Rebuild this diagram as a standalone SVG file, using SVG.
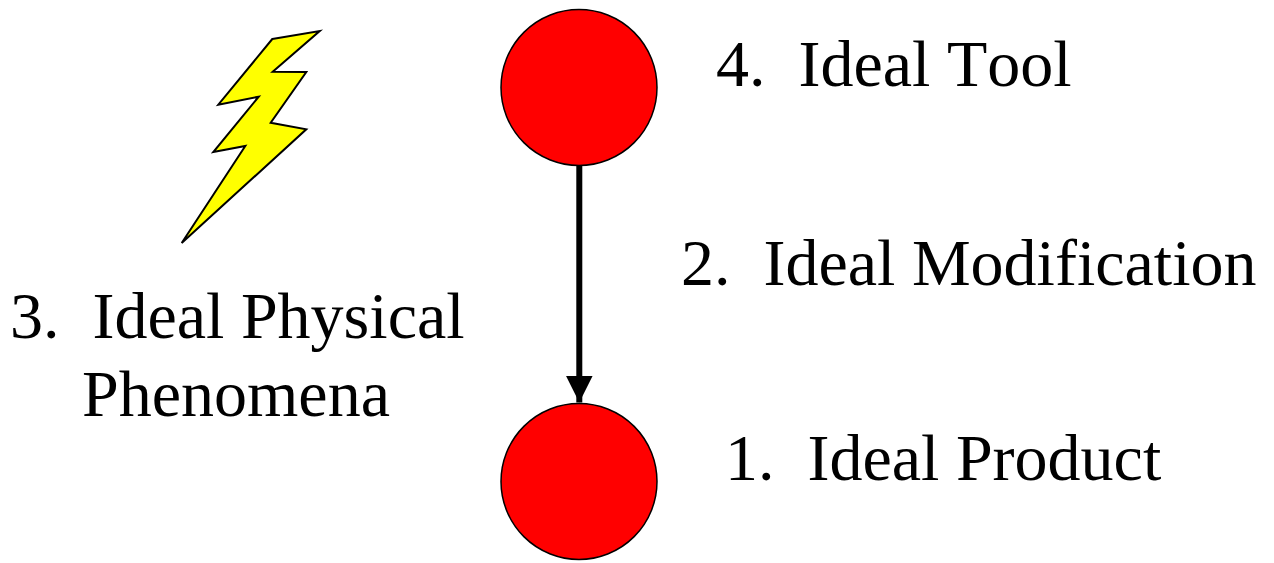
<svg xmlns="http://www.w3.org/2000/svg" width="1274" height="563" viewBox="0 0 1274 563">
<style>
.t{font-family:"Liberation Serif","Times New Roman",serif;font-size:66px;fill:#000;white-space:pre;font-kerning:none}
.c{fill:#f00;stroke:#000;stroke-width:1.5}
</style>
<defs><marker id="a" markerUnits="userSpaceOnUse" markerWidth="30" markerHeight="30" refX="27" refY="14" orient="auto"><path d="M0,.5L27,14L0,27.5Z" fill="#000"/></marker></defs>
<rect width="1274" height="563" fill="#fff"/>
<g id="connectors"><line x1="579.3" y1="166" x2="579.3" y2="402.5" stroke="#000" stroke-width="6" marker-end="url(#a)"/></g>
<g id="tool"><circle class="c" cx="579" cy="87.5" r="78"/><text class="t" x="716" y="86" xml:space="preserve">4.  Ideal Tool</text></g>
<g id="product"><circle class="c" cx="579" cy="481.5" r="78"/><text class="t" x="725" y="480" xml:space="preserve">1.  Ideal Product</text></g>
<g id="modification"><text class="t" x="681" y="285" xml:space="preserve">2.  Ideal Modification</text></g>
<g id="phenomena"><path d="M272.3,39L319.7,31L272.7,71.7L306.3,72L270.7,122.7L306.3,129.3L181.7,243L245.3,146L213.3,152L258.7,96.7L218.3,104.7Z" fill="#ff0" stroke="#000" stroke-width="2"/>
<text class="t" x="10" y="338" xml:space="preserve">3.  Ideal Physical</text><text class="t" x="82" y="416">Phenomena</text></g>
</svg>
